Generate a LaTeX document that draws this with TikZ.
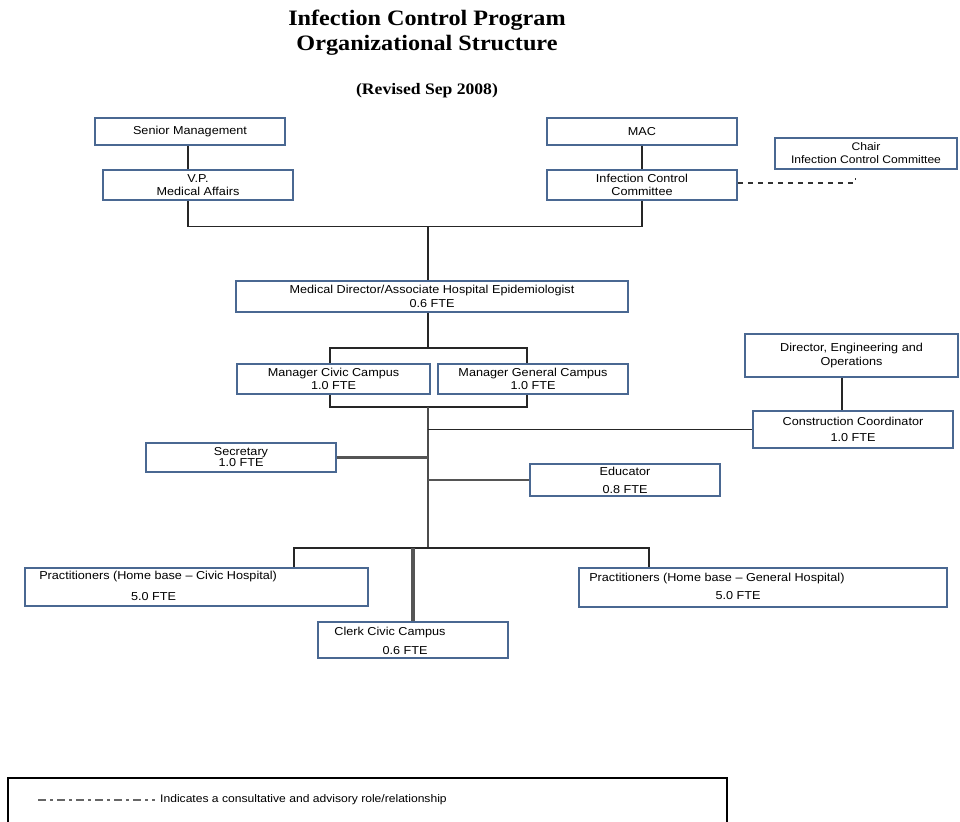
\documentclass[tikz,border=0pt]{standalone}
\usepackage{fontspec}
\setmainfont[FakeStretch=1.1]{Liberation Sans}
\newfontfamily\titlefont[FakeStretch=1.1]{Liberation Serif}
\definecolor{boxblue}{HTML}{4A6892}
\definecolor{linegray}{HTML}{555555}
\begin{document}
\begin{tikzpicture}[x=1pt,y=-1pt,
  box/.style={draw=boxblue, line width=1.8pt, fill=white, inner sep=0pt, align=center,
              font=\fontsize{11.5}{13.5}\selectfont},
  w190/.style={minimum width=190pt},
  lbl/.style={inner sep=0pt, align=center, font=\fontsize{11.5}{13}\selectfont},
  conn/.style={draw=black!85, line width=1.5pt},
  thickconn/.style={draw=linegray, line width=3pt},
  advisory/.style={draw=black!80, line width=1pt, dash pattern=on 5pt off 5pt},
  titletext/.style={font=\titlefont\bfseries\fontsize{22}{25}\selectfont, align=center, inner sep=0pt}
]
\useasboundingbox (0,0) rectangle (960,821);

% Titles
\node[titletext] (title) at (427,33) {Infection Control Program\\Organizational Structure};
\node[inner sep=0pt, font=\titlefont\bfseries\fontsize{16}{18}\selectfont] (rev) at (427,91) {(Revised Sep 2008)};

% Boxes
\node[box, w190, minimum height=27pt] (sm) at (190,131.5) {Senior Management};
\node[box, w190, minimum height=30pt] (vp) at (198,185) {V.P.\\Medical Affairs};
\node[box, w190, minimum height=27pt] (mac) at (642,131.5) {MAC};
\node[box, w190, minimum height=30pt] (icc) at (642,185) {Infection Control\\Committee};
\node[box, minimum width=182pt, minimum height=31pt, font=\fontsize{11}{13}\selectfont] (chair) at (866,153.5) {Chair\\Infection Control Committee};
\node[box, minimum width=392pt, minimum height=31pt] (md) at (432,296.5) {Medical Director/Associate Hospital Epidemiologist\\0.6 FTE};
\node[box, minimum width=193pt, minimum height=30pt] (mc) at (333.5,379) {Manager Civic Campus\\1.0 FTE};
\node[box, w190, minimum height=30pt] (mg) at (533,379) {Manager General Campus\\1.0 FTE};
\node[box, minimum width=213pt, minimum height=43pt] (deo) at (851.5,355.5) {Director, Engineering and\\Operations};
\node[box, minimum width=200pt, minimum height=37pt, font=\fontsize{11.5}{16}\selectfont] (cc) at (853,429.5) {Construction Coordinator\\1.0 FTE};
\node[box, w190, minimum height=29pt, font=\fontsize{11.5}{11}\selectfont] (sec) at (241,457.5) {Secretary\\1.0 FTE};
\node[box, w190, minimum height=32pt, font=\fontsize{11.5}{18}\selectfont] (edu) at (625,480) {Educator\\0.8 FTE};
\node[box, minimum width=343pt, minimum height=38pt] (pc) at (196.5,587) {};
\node[box, w190, minimum height=36pt] (clerk) at (413,640) {};
\node[box, minimum width=368pt, minimum height=39pt] (pg) at (763,587.5) {};

% Texts placed inside the lower boxes
\node[lbl, anchor=west] (pct1) at ([xshift=15pt,yshift=10pt]pc.west) {Practitioners (Home base -- Civic Hospital)};
\node[lbl] (pct2) at ([xshift=-43pt,yshift=-10pt]pc.center) {5.0 FTE};
\node[lbl] (clt1) at ([xshift=-23pt,yshift=7pt]clerk.center) {Clerk Civic Campus};
\node[lbl] (clt2) at ([xshift=-8pt,yshift=-11pt]clerk.center) {0.6 FTE};
\node[lbl, anchor=west] (pgt1) at ([xshift=11pt,yshift=9pt]pg.west) {Practitioners (Home base -- General Hospital)};
\node[lbl] (pgt2) at ([xshift=-25pt,yshift=-8.5pt]pg.center) {5.0 FTE};

% Junction coordinates
\coordinate (jtop) at (428,226.5);
\coordinate (jmd) at (428,348);
\coordinate (jmgr) at (428,407);
\coordinate (jbar) at (428,548);
\coordinate (advend) at (855,178);

% Connectors
\draw[conn] ([xshift=-2pt]sm.south) -- ([xshift=-2pt]sm.south |- vp.north);
\draw[conn] (mac.south) -- (icc.north);
\draw[conn] ([xshift=-10pt]vp.south) |- (jtop) -| (icc.south);
\draw[conn] (jtop) -- (jtop |- md.north);
\draw[conn] (jtop |- md.south) -- (jmd);
\draw[conn] (jmd) -| ([xshift=-3.5pt]mc.north);
\draw[conn] (jmd) -| ([xshift=-6pt]mg.north);
\draw[conn] ([xshift=-3.5pt]mc.south) |- (jmgr) -| ([xshift=-6pt]mg.south);
\draw[conn, line width=1.2pt, draw=black!70] (jmgr) -- (jbar);
\draw[conn] (jmgr |- cc.west) -- (cc.west);
\draw[thickconn] (sec.east) -- (sec.east -| jmgr);
\draw[thickconn, line width=2.5pt] (edu.west -| jmgr) -- (edu.west);
\draw[conn] (deo.south -| 842,0) -- (cc.north -| 842,0);
\draw[conn] (jbar) -| (pc.north -| 294,0);
\draw[conn] (jbar) -| (pg.north -| 649,0);
\draw[thickconn, line width=3.5pt] (jbar -| clerk.north) -- (clerk.north);
\draw[advisory] (icc.east |- 0,183) -- (855,183) -- (advend);

% Legend
\node[draw=black, line width=1.5pt, minimum width=719pt, minimum height=60pt, inner sep=0pt] (legend) at (367.5,808) {};
\coordinate (lgs) at (38,800);
\coordinate (lge) at (155,800);
\draw[draw=black!60, line width=1.2pt, dash pattern=on 8pt off 4pt on 3pt off 4pt] (lgs) -- (lge);
\node[inner sep=0pt, anchor=west, font=\fontsize{11}{12}\selectfont] (legtext) at (160,800) {Indicates a consultative and advisory role/relationship};
\end{tikzpicture}
\end{document}
